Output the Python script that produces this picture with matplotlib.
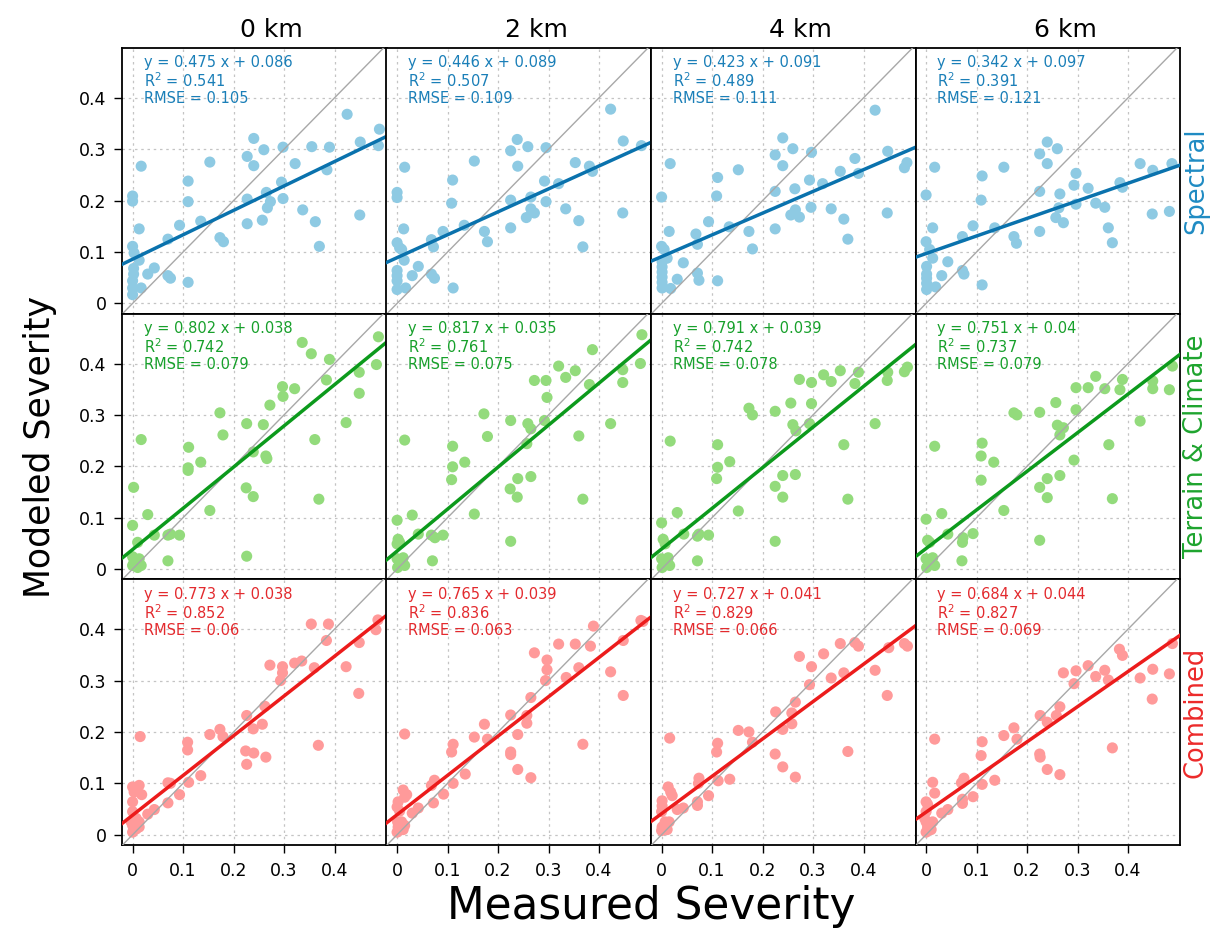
import matplotlib
matplotlib.use("Agg")
import matplotlib.pyplot as plt
import numpy as np

plt.rcParams['font.family'] = ['DejaVu Sans']

# distances (columns) and model types (rows)
distances = ["0 km", "2 km", "4 km", "6 km"]
models = ["Spectral", "Terrain & Climate", "Combined"]

# fit statistics, one list per row, one value per column
spec_slope = [0.475, 0.446, 0.423, 0.342]
spec_icpt = ["0.086", "0.089", "0.091", "0.097"]
spec_r2 = ["0.541", "0.507", "0.489", "0.391"]
spec_rmse = ["0.105", "0.109", "0.111", "0.121"]

terr_slope = [0.802, 0.817, 0.791, 0.751]
terr_icpt = ["0.038", "0.035", "0.039", "0.04"]
terr_r2 = ["0.742", "0.761", "0.742", "0.737"]
terr_rmse = ["0.079", "0.075", "0.078", "0.079"]

comb_slope = [0.773, 0.765, 0.727, 0.684]
comb_icpt = ["0.038", "0.039", "0.041", "0.044"]
comb_r2 = ["0.852", "0.836", "0.829", "0.827"]
comb_rmse = ["0.06", "0.063", "0.066", "0.069"]

# (measured, modeled) pairs
spec_0 = [(0.017, 0.267), (0, 0.209), (0, 0.199), (0.013, 0.145), (0, 0.111), (0.003, 0.098),
          (0.013, 0.084), (0.002, 0.068), (0.002, 0.057), (0, 0.044), (0, 0.030), (0, 0.017),
          (0.017, 0.030), (0.03, 0.057), (0.043, 0.069), (0.07, 0.125), (0.07, 0.054),
          (0.075, 0.049), (0.093, 0.152), (0.11, 0.238), (0.11, 0.198), (0.11, 0.041),
          (0.135, 0.160), (0.153, 0.275), (0.173, 0.128), (0.18, 0.120), (0.227, 0.286),
          (0.227, 0.203), (0.227, 0.155), (0.24, 0.321), (0.24, 0.268), (0.257, 0.162),
          (0.26, 0.299), (0.265, 0.216), (0.267, 0.186), (0.273, 0.198), (0.295, 0.236),
          (0.298, 0.304), (0.298, 0.204), (0.322, 0.272), (0.337, 0.182), (0.355, 0.305),
          (0.362, 0.159), (0.37, 0.111), (0.385, 0.260), (0.39, 0.304), (0.425, 0.368),
          (0.45, 0.172), (0.451, 0.314), (0.487, 0.307), (0.489, 0.339)]
spec_2 = [(0.015, 0.265), (0, 0.216), (0, 0.206), (0.013, 0.145), (0, 0.118), (0.005, 0.108),
          (0.009, 0.105), (0.014, 0.084), (0, 0.064), (0, 0.054), (0, 0.044), (0, 0.027),
          (0.017, 0.030), (0.03, 0.054), (0.042, 0.072), (0.068, 0.124), (0.072, 0.110),
          (0.068, 0.057), (0.074, 0.049), (0.091, 0.140), (0.11, 0.240), (0.108, 0.195),
          (0.111, 0.030), (0.133, 0.152), (0.153, 0.277), (0.173, 0.140), (0.179, 0.120),
          (0.225, 0.297), (0.225, 0.201), (0.225, 0.147), (0.238, 0.319), (0.239, 0.267),
          (0.259, 0.305), (0.256, 0.167), (0.265, 0.207), (0.265, 0.184), (0.272, 0.176),
          (0.292, 0.238), (0.295, 0.303), (0.295, 0.198), (0.32, 0.233), (0.334, 0.184),
          (0.353, 0.274), (0.36, 0.161), (0.368, 0.110), (0.381, 0.267), (0.387, 0.257),
          (0.423, 0.378), (0.447, 0.176), (0.448, 0.316), (0.484, 0.307)]
spec_4 = [(0.017, 0.272), (0, 0.207), (0.015, 0.140), (0, 0.111), (0.005, 0.105), (0.011, 0.088),
          (0.001, 0.081), (0.001, 0.071), (0.001, 0.061), (0.001, 0.051), (0.001, 0.041),
          (0.001, 0.030), (0.018, 0.029), (0.031, 0.047), (0.043, 0.079), (0.068, 0.135),
          (0.071, 0.115), (0.071, 0.059), (0.074, 0.045), (0.093, 0.159), (0.111, 0.245),
          (0.109, 0.209), (0.111, 0.044), (0.134, 0.149), (0.152, 0.260), (0.173, 0.140),
          (0.180, 0.106), (0.225, 0.289), (0.225, 0.218), (0.225, 0.145), (0.24, 0.322),
          (0.24, 0.268), (0.26, 0.301), (0.264, 0.223), (0.265, 0.182), (0.256, 0.172),
          (0.273, 0.168), (0.293, 0.240), (0.297, 0.294), (0.296, 0.187), (0.319, 0.233),
          (0.336, 0.184), (0.354, 0.257), (0.361, 0.164), (0.369, 0.125), (0.383, 0.282),
          (0.39, 0.253), (0.423, 0.376), (0.447, 0.176), (0.448, 0.296), (0.481, 0.264),
          (0.486, 0.274)]
spec_6 = [(0.017, 0.265), (0, 0.211), (0.013, 0.147), (0, 0.120), (0.007, 0.105), (0.013, 0.088),
          (0.001, 0.072), (0.001, 0.057), (0.001, 0.049), (0.001, 0.039), (0.001, 0.027),
          (0.019, 0.032), (0.031, 0.054), (0.043, 0.081), (0.072, 0.130), (0.072, 0.064),
          (0.075, 0.057), (0.093, 0.151), (0.111, 0.248), (0.109, 0.201), (0.111, 0.036),
          (0.136, 0.147), (0.154, 0.265), (0.174, 0.130), (0.179, 0.117), (0.225, 0.291),
          (0.225, 0.218), (0.225, 0.140), (0.24, 0.314), (0.24, 0.272), (0.26, 0.301),
          (0.265, 0.213), (0.263, 0.186), (0.257, 0.167), (0.272, 0.157), (0.293, 0.230),
          (0.297, 0.253), (0.297, 0.193), (0.321, 0.224), (0.336, 0.195), (0.354, 0.187),
          (0.361, 0.147), (0.369, 0.118), (0.384, 0.235), (0.389, 0.226), (0.424, 0.272),
          (0.448, 0.174), (0.449, 0.259), (0.482, 0.179), (0.487, 0.272)]

terr_0 = [(0.017, 0.252), (0.002, 0.159), (0, 0.085), (0.03, 0.106), (0.043, 0.066), (0.01, 0.052),
          (0, 0.024), (0.007, 0.017), (0.013, 0.020), (0, 0.007), (0.01, 0.003), (0.017, 0.007),
          (0.003, 0.014), (0.07, 0.066), (0.075, 0.068), (0.093, 0.066), (0.07, 0.016),
          (0.111, 0.237), (0.11, 0.197), (0.11, 0.192), (0.135, 0.208), (0.153, 0.114),
          (0.173, 0.304), (0.179, 0.261), (0.226, 0.025), (0.225, 0.158), (0.239, 0.141),
          (0.226, 0.283), (0.239, 0.228), (0.259, 0.281), (0.264, 0.220), (0.266, 0.215),
          (0.272, 0.319), (0.297, 0.355), (0.298, 0.336), (0.321, 0.351), (0.336, 0.441),
          (0.354, 0.419), (0.361, 0.252), (0.369, 0.136), (0.384, 0.368), (0.39, 0.408),
          (0.423, 0.285), (0.449, 0.383), (0.449, 0.342), (0.483, 0.398), (0.487, 0.452)]
terr_2 = [(0.015, 0.251), (0, 0.095), (0.03, 0.105), (0.042, 0.068), (0.002, 0.058), (0.005, 0.052),
          (0, 0.049), (0, 0.020), (0.009, 0.014), (0.015, 0.007), (0.001, 0.003), (0.012, 0.022),
          (0.005, 0.010), (0.068, 0.066), (0.075, 0.061), (0.091, 0.066), (0.07, 0.016),
          (0.11, 0.239), (0.11, 0.199), (0.108, 0.174), (0.134, 0.208), (0.153, 0.107),
          (0.172, 0.302), (0.179, 0.258), (0.225, 0.289), (0.225, 0.054), (0.224, 0.156),
          (0.238, 0.140), (0.239, 0.176), (0.265, 0.180), (0.259, 0.283), (0.265, 0.273),
          (0.257, 0.244), (0.272, 0.367), (0.295, 0.367), (0.297, 0.334), (0.292, 0.289),
          (0.32, 0.395), (0.334, 0.373), (0.353, 0.386), (0.36, 0.259), (0.368, 0.136),
          (0.381, 0.359), (0.387, 0.427), (0.423, 0.283), (0.447, 0.388), (0.447, 0.363),
          (0.482, 0.400), (0.485, 0.456)]
terr_4 = [(0.017, 0.249), (0, 0.090), (0.031, 0.110), (0.044, 0.068), (0.003, 0.058), (0.007, 0.049),
          (0, 0.020), (0.008, 0.014), (0.016, 0.007), (0.001, 0.003), (0.013, 0.022), (0.005, 0.010),
          (0.071, 0.064), (0.074, 0.068), (0.093, 0.066), (0.071, 0.016), (0.111, 0.242),
          (0.111, 0.198), (0.109, 0.176), (0.135, 0.209), (0.152, 0.113), (0.173, 0.313),
          (0.18, 0.300), (0.225, 0.054), (0.225, 0.307), (0.225, 0.161), (0.24, 0.182),
          (0.24, 0.140), (0.265, 0.184), (0.256, 0.323), (0.26, 0.281), (0.266, 0.269),
          (0.273, 0.369), (0.297, 0.363), (0.297, 0.322), (0.293, 0.283), (0.321, 0.378),
          (0.336, 0.365), (0.354, 0.386), (0.361, 0.242), (0.369, 0.136), (0.383, 0.361),
          (0.39, 0.383), (0.423, 0.283), (0.448, 0.383), (0.447, 0.367), (0.481, 0.384),
          (0.487, 0.393)]
terr_6 = [(0.017, 0.239), (0, 0.097), (0.031, 0.108), (0.043, 0.068), (0.003, 0.056), (0.007, 0.052),
          (0, 0.020), (0.01, 0.014), (0.017, 0.007), (0.001, 0.003), (0.013, 0.022), (0.005, 0.010),
          (0.072, 0.052), (0.073, 0.061), (0.093, 0.069), (0.071, 0.016), (0.111, 0.245),
          (0.109, 0.220), (0.109, 0.173), (0.134, 0.208), (0.154, 0.114), (0.174, 0.304),
          (0.18, 0.300), (0.225, 0.305), (0.225, 0.056), (0.225, 0.159), (0.24, 0.139),
          (0.24, 0.176), (0.265, 0.182), (0.257, 0.324), (0.26, 0.280), (0.272, 0.275),
          (0.265, 0.261), (0.293, 0.212), (0.297, 0.353), (0.297, 0.310), (0.321, 0.353),
          (0.336, 0.375), (0.354, 0.351), (0.362, 0.242), (0.369, 0.137), (0.384, 0.349),
          (0.389, 0.369), (0.424, 0.288), (0.449, 0.366), (0.449, 0.351), (0.482, 0.349),
          (0.488, 0.395)]

comb_0 = [(0.015, 0.191), (0, 0.093), (0.013, 0.096), (0.003, 0.083), (0.018, 0.078), (0, 0.064),
          (0, 0.045), (0.007, 0.032), (0.013, 0.025), (0, 0.018), (0.007, 0.011), (0.013, 0.015),
          (0, 0.005), (-0.003, 0.025), (0.03, 0.040), (0.043, 0.049), (0.07, 0.101),
          (0.075, 0.100), (0.07, 0.062), (0.093, 0.078), (0.109, 0.180), (0.109, 0.165),
          (0.111, 0.102), (0.135, 0.115), (0.153, 0.195), (0.173, 0.205), (0.179, 0.191),
          (0.226, 0.232), (0.224, 0.163), (0.226, 0.137), (0.24, 0.159), (0.239, 0.206),
          (0.257, 0.215), (0.262, 0.250), (0.264, 0.151), (0.272, 0.330), (0.293, 0.300),
          (0.297, 0.315), (0.297, 0.327), (0.321, 0.334), (0.335, 0.338), (0.354, 0.410),
          (0.36, 0.325), (0.368, 0.174), (0.384, 0.378), (0.388, 0.410), (0.423, 0.327),
          (0.448, 0.275), (0.449, 0.374), (0.482, 0.399), (0.486, 0.418)]
comb_2 = [(0.015, 0.196), (0.012, 0.087), (0.019, 0.078), (0.015, 0.073), (0.002, 0.064),
          (0, 0.054), (0.005, 0.046), (0.009, 0.025), (0.015, 0.018), (0.002, 0.015),
          (0.012, 0.010), (0, 0.005), (0.001, 0.025), (0.03, 0.042), (0.042, 0.052),
          (0.072, 0.062), (0.074, 0.106), (0.068, 0.096), (0.092, 0.079), (0.111, 0.176),
          (0.108, 0.161), (0.111, 0.100), (0.135, 0.118), (0.153, 0.190), (0.173, 0.215),
          (0.179, 0.186), (0.225, 0.233), (0.225, 0.161), (0.225, 0.156), (0.239, 0.195),
          (0.239, 0.127), (0.257, 0.232), (0.257, 0.217), (0.265, 0.267), (0.265, 0.111),
          (0.272, 0.354), (0.294, 0.300), (0.297, 0.321), (0.297, 0.340), (0.32, 0.371),
          (0.335, 0.306), (0.353, 0.371), (0.36, 0.325), (0.368, 0.176), (0.383, 0.367),
          (0.389, 0.406), (0.423, 0.317), (0.448, 0.271), (0.448, 0.378), (0.483, 0.417),
          (0.487, 0.415)]
comb_4 = [(0.016, 0.188), (0.013, 0.093), (0.018, 0.083), (0.021, 0.076), (0.001, 0.066),
          (0.001, 0.056), (0, 0.045), (0.007, 0.025), (0.015, 0.025), (0.001, 0.015),
          (0.011, 0.010), (0, 0.008), (0.005, 0.018), (0.031, 0.049), (0.043, 0.052),
          (0.071, 0.064), (0.071, 0.057), (0.074, 0.110), (0.073, 0.100), (0.093, 0.076),
          (0.111, 0.178), (0.109, 0.161), (0.112, 0.105), (0.135, 0.108), (0.152, 0.203),
          (0.173, 0.200), (0.18, 0.180), (0.226, 0.239), (0.225, 0.157), (0.24, 0.132),
          (0.24, 0.205), (0.258, 0.216), (0.258, 0.237), (0.265, 0.258), (0.265, 0.112),
          (0.273, 0.347), (0.293, 0.292), (0.297, 0.327), (0.321, 0.352), (0.336, 0.305),
          (0.354, 0.372), (0.361, 0.315), (0.369, 0.162), (0.383, 0.374), (0.39, 0.367),
          (0.423, 0.320), (0.447, 0.271), (0.45, 0.364), (0.481, 0.372), (0.487, 0.367)]
comb_6 = [(0.017, 0.186), (0.013, 0.102), (0.017, 0.081), (0, 0.064), (0.003, 0.059), (0, 0.045),
          (0, 0.025), (0.013, 0.025), (0.003, 0.015), (0.01, 0.010), (0, 0.005), (0.007, 0.018),
          (-0.003, 0.032), (0.031, 0.042), (0.043, 0.049), (0.072, 0.069), (0.072, 0.061),
          (0.075, 0.110), (0.07, 0.101), (0.093, 0.074), (0.111, 0.181), (0.109, 0.154),
          (0.111, 0.098), (0.136, 0.106), (0.154, 0.193), (0.174, 0.208), (0.18, 0.186),
          (0.226, 0.232), (0.225, 0.157), (0.226, 0.151), (0.24, 0.127), (0.24, 0.219),
          (0.258, 0.232), (0.265, 0.249), (0.265, 0.117), (0.272, 0.315), (0.293, 0.294),
          (0.297, 0.319), (0.321, 0.329), (0.336, 0.308), (0.354, 0.320), (0.361, 0.301),
          (0.369, 0.169), (0.383, 0.361), (0.389, 0.349), (0.424, 0.305), (0.448, 0.264),
          (0.449, 0.322), (0.482, 0.313), (0.488, 0.372)]

rows = [
    ([spec_0, spec_2, spec_4, spec_6], spec_slope, spec_icpt, spec_r2, spec_rmse),
    ([terr_0, terr_2, terr_4, terr_6], terr_slope, terr_icpt, terr_r2, terr_rmse),
    ([comb_0, comb_2, comb_4, comb_6], comb_slope, comb_icpt, comb_r2, comb_rmse),
]
pt_cols = ["#8ecae3", "#93db7c", "#ff9a9a"]
ln_cols = ["#0a72ad", "#0c9a1c", "#ec1c1c"]
tx_cols = ["#1a7fb8", "#17a02b", "#e32a2e"]
strip_cols = ["#1f8bc3", "#1ea42e", "#ec2a2a"]

W, H = 1218, 930
L, R, T, B = 122, 1180, 48, 845
cw = (R - L) / 4
rh = (B - T) / 3

fig = plt.figure(figsize=(W / 100, H / 100), dpi=100)

ticks = [0, 0.1, 0.2, 0.3, 0.4]
tlabels = ["0", "0.1", "0.2", "0.3", "0.4"]

for i, (panels, slope, icpt, r2, rmse) in enumerate(rows):
    for j in range(4):
        ax = fig.add_axes([(L + j * cw) / W, 1 - (T + (i + 1) * rh) / H, cw / W, rh / H])
        ax.set_xlim(-0.021, 0.503)
        ax.set_ylim(-0.02, 0.497)
        ax.set_xticks(ticks)
        ax.set_yticks(ticks)
        ax.grid(True, color="#c4c4c4", linestyle=(0, (2, 3)), linewidth=0.9)
        ax.set_axisbelow(True)
        for s in ax.spines.values():
            s.set_linewidth(1.3)
            s.set_color("black")

        pts = np.array(panels[j])
        ax.scatter(pts[:, 0], pts[:, 1], s=64, color=pt_cols[i], edgecolors="none", zorder=2)
        ax.plot([-1, 1], [-1, 1], color="#a8a8a8", linewidth=1.0, zorder=3)
        xx = np.array([-0.05, 0.6])
        ax.plot(xx, slope[j] * xx + float(icpt[j]), color=ln_cols[i], linewidth=2.5, zorder=4)

        ax.text(0.022, 0.468, "y = %s x + %s" % (slope[j], icpt[j]), color=tx_cols[i],
                fontsize=10.5, va="center", ha="left")
        ax.text(0.022, 0.433, "R$^2$ = " + r2[j], color=tx_cols[i],
                fontsize=10.5, va="center", ha="left")
        ax.text(0.022, 0.398, "RMSE = " + rmse[j], color=tx_cols[i],
                fontsize=10.5, va="center", ha="left")

        ax.tick_params(axis="both", direction="out", length=6, width=1, labelsize=12.5, pad=5)
        if j == 0:
            ax.set_yticklabels(tlabels)
        else:
            ax.tick_params(axis="y", length=0, labelleft=False)
        if i == 2:
            ax.set_xticklabels(tlabels)
            ax.tick_params(axis="x", pad=6.5)
        else:
            ax.tick_params(axis="x", length=0, labelbottom=False)

        if i == 0:
            ax.set_title(distances[j], fontsize=18, pad=8, x=0.565)
        if j == 3:
            ax.text(1.06, 0.5, models[i], transform=ax.transAxes, rotation=90,
                    fontsize=18.5, color=strip_cols[i], va="center", ha="center")

fig.text((L + R) / 2 / W, 1 - 906 / H, "Measured Severity", fontsize=31.5, ha="center", va="center")
fig.text(40 / W, 1 - (T + B) / 2 / H, "Modeled Severity", fontsize=25, rotation=90,
         ha="center", va="center")

fig.savefig("out.png", dpi=100)
